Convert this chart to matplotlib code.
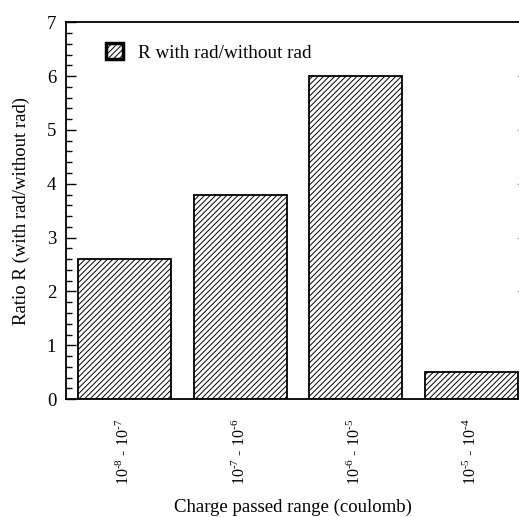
import matplotlib
matplotlib.use("Agg")
import matplotlib.pyplot as plt
from matplotlib.ticker import MultipleLocator

plt.rcParams['font.family'] = ['Liberation Serif', 'DejaVu Serif']
plt.rcParams['mathtext.fontset'] = 'custom'
plt.rcParams['mathtext.rm'] = 'Liberation Serif'
plt.rcParams['hatch.linewidth'] = 0.7

categories = ["$\\mathrm{10^{\u20108}}$ - $\\mathrm{10^{\u20107}}$",
              "$\\mathrm{10^{\u20107}}$ - $\\mathrm{10^{\u20106}}$",
              "$\\mathrm{10^{\u20106}}$ - $\\mathrm{10^{\u20105}}$",
              "$\\mathrm{10^{\u20105}}$ - $\\mathrm{10^{\u20104}}$"]
ratios = [2.6, 3.8, 6.0, 0.5]
series_label = "R with rad/without rad"

fig = plt.figure(figsize=(5.19, 5.17), dpi=100)
ax = fig.add_axes([0.127, 0.228, 0.875, 0.729])

x = list(range(len(categories)))
ax.bar(x, ratios, width=0.805, color='white', edgecolor='black',
       hatch='//////', linewidth=1.3, label=series_label)

ax.set_xlim(-0.507, 3.42)
ax.set_ylim(0, 7)
ax.set_xticks(x)
ax.set_xticklabels(categories, rotation=90, fontsize=11.5)
ax.tick_params(axis='x', length=0, pad=14)
ax.yaxis.set_major_locator(MultipleLocator(1))
ax.yaxis.set_minor_locator(MultipleLocator(0.2))
ax.tick_params(axis='y', which='major', direction='in', length=7.2, width=1,
               labelsize=13.5, pad=7, right=False)
ax.tick_params(axis='y', which='minor', direction='in', length=4.3, width=1,
               right=False)
for s in ax.spines.values():
    s.set_linewidth(1.3)
ax.spines['right'].set_visible(False)

# faint right-side tick marks
for v in [2, 3, 4, 5, 6]:
    ax.plot([0.996, 1.0], [v, v], transform=ax.get_yaxis_transform(),
            color='#999999', lw=1, clip_on=False)

ax.set_xlabel("Charge passed range (coulomb)", fontsize=13.5, labelpad=10)
ax.set_ylabel("Ratio R (with rad/without rad)", fontsize=13.5, labelpad=12)

leg = ax.legend(loc='upper left', frameon=False, fontsize=13.8,
                bbox_to_anchor=(0.05, 0.99), handlelength=0.9,
                handleheight=0.9, handletextpad=0.8)
for h in leg.legend_handles:
    h.set_linewidth(2.5)

fig.savefig("out.png", dpi=100)
